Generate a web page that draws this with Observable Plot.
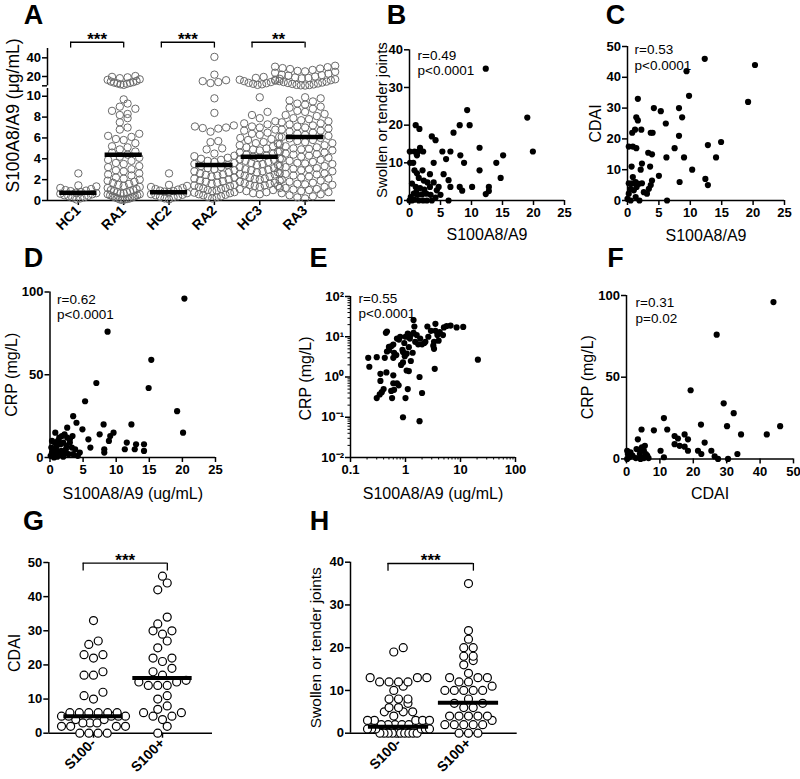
<!DOCTYPE html>
<html><head><meta charset="utf-8">
<script src="https://cdn.jsdelivr.net/npm/d3@7"></script>
<script src="https://cdn.jsdelivr.net/npm/@observablehq/plot@0.6"></script>
<style>
body{margin:0;background:#fff;}
#fig{position:relative;width:800px;height:779px;background:#fff;}
</style></head><body><div id="fig"></div>
<script>
// ---------------- DATA ----------------
// Panel A: S100A8/A9 (ug/mL) by group
const aGroups = ["HC1","RA1","HC2","RA2","HC3","RA3"];
const hc1 = [2.6,1.45,1.35,1.2,1.1,1.0,0.95,0.9,0.8,0.75,0.7,0.65,0.6,0.5,0.45,0.4,0.3,0.25,0.2,0.1];
const ra1 = [20.5,19.6,19.1,18.2,17.0,16.4,15.2,14.6,14.0,13.5,13.1,12.6,12.2,11.6,11.0,9.7,9.3,9.0,8.8,8.6,8.3,8.2,7.9,7.5,7.0,6.8,6.4,6.2,6.1,5.9,5.8,5.5,5.2,5.1,4.9,4.7,4.6,4.4,4.2,4.1,3.9,3.8,3.6,3.5,3.3,3.2,3.0,2.9,2.8,2.6,2.5,2.4,2.2,2.1,2.0,1.9,1.8,1.7,1.6,1.5,1.4,1.3,1.2,1.1,1.0,1.0,0.9,0.9,0.8,0.8,0.7,0.7,0.6,0.6,0.5,0.5,0.4,0.4,0.3,0.3,0.2,0.2,0.15,0.1,0.1,0.05];
const hc2 = [2.6,1.5,1.4,1.3,1.2,1.1,1.05,0.95,0.9,0.85,0.8,0.7,0.6,0.55,0.5,0.4,0.35,0.3,0.2,0.1];
const ra2 = [41,22,16,15,14,13,9.8,8.4,7.2,7.1,7.0,6.95,6.9,6.6,5.7,5.6,5.0,4.9,4.5,4.3,4.25,4.1,4.0,3.9,3.8,3.7,3.6,3.5,3.4,3.3,3.2,3.1,3.0,2.9,2.8,2.7,2.6,2.5,2.45,2.4,2.3,2.2,2.1,2.0,1.9,1.85,1.8,1.7,1.6,1.5,1.45,1.4,1.3,1.2,1.15,1.1,1.0,0.95,0.9,0.8,0.75,0.7,0.6,0.55,0.5,0.4,0.35,0.3,0.2];
const hc3 = [19.5,18.5,17.5,16.5,15.5,15,14,13.2,12.8,12.2,11.6,11,9.9,8.5,8.2,7.9,7.6,7.4,7.3,7.1,7.0,6.8,6.7,6.5,6.4,6.3,6.1,6.0,5.9,5.8,5.6,5.5,5.4,5.3,5.2,5.1,5.0,4.9,4.8,4.7,4.6,4.5,4.4,4.3,4.2,4.1,4.0,3.95,3.9,3.8,3.7,3.6,3.5,3.4,3.3,3.2,3.1,3.0,2.95,2.9,2.8,2.7,2.6,2.55,2.5,2.4,2.3,2.2,2.1,2.05,2.0,1.9,1.8,1.7,1.65,1.6,1.5,1.45,1.4,1.3,1.2,1.1,1.0,0.9,0.8,0.7,0.6];
const ra3 = [31.5,30.5,30,29,28.5,28,27,26,25.5,25,24,23,22,21.5,21,20,19,18.5,18,17,16.5,16,15,14.5,14,13.5,13,12.5,12,11.5,11,10.8,10.5,10.3,
 9.9,9.8,9.6,9.5,9.3,9.2,9.0,8.9,8.8,8.6,8.5,8.3,8.2,8.1,
 7.9,7.8,7.7,7.6,7.5,7.4,7.3,7.2,7.1,7.0,6.9,6.8,6.7,6.6,6.5,6.4,6.3,6.2,6.1,6.0,
 5.95,5.8,5.7,5.6,5.5,5.45,5.3,5.2,5.1,5.0,4.95,4.9,4.8,4.7,4.6,4.5,4.45,4.4,4.3,4.2,4.1,4.0,
 3.9,3.8,3.7,3.6,3.55,3.5,3.4,3.3,3.2,3.1,3.05,3.0,2.9,2.8,2.7,2.6,2.55,2.5,2.4,2.3,2.2,2.1,2.0,
 1.9,1.8,1.7,1.6,1.55,1.5,1.4,1.3,1.2,1.1,1.05,1.0,0.9,0.8,0.7,0.6,0.5,0.4,0.3,0.2];
const aMedians = [0.75,4.4,0.8,3.4,4.2,6.1];
const aComparisons = [{from:"HC1",to:"RA1",stars:"***"},{from:"HC2",to:"RA2",stars:"***"},{from:"HC3",to:"RA3",stars:"**"}];
const aYTicks = [0,2,4,6,8,10,20,40];
const aHalfWidths = [18,16,18,20,20,30];

// Panel B: S100A8/A9 vs swollen or tender joints
const bPts = [[12.3,35],[19.0,22],[19.9,13],[9.3,24],[8.1,20],[9.7,20],[7.1,18],[3.6,17],[4.2,16],[1.0,20],[1.6,19],[11.3,14],[8.2,12],[8.8,10],[5.3,13],[6.6,13],[5.9,11],[3.9,10],[0.8,13],[1.4,13],[2.2,13],[0.05,13],[1.2,12],[1.7,14],[14.0,10],[15.1,12],[14.7,6],[11.3,8],[12.3,1.7],[12.8,2.5],[12.8,3.6],[10.1,3.6],[8.1,3.6],[8.5,2.6],[6.6,3.6],[6.3,5.4],[5.5,7],[4.7,3.6],[5.0,1.5],[6.3,0],[3.3,3.6],[3.3,7],[2.1,8],[0.8,8],[1.2,7.2],[0.6,10],[0.1,10],[1.5,6],[2.3,5.3],[2.9,4.8],[3.9,4.8],[0.4,4.5],[1.0,3.6],[1.7,3.3],[2.4,2.9],[0.7,1.8],[1.3,1.5],[2.0,1.6],[3.4,1.5],[4.2,0.8],[0.2,0.9],[0.8,0.2],[1.5,0],[2.2,0],[2.8,0],[3.6,0],[0,0],[0.4,0],[1.1,2.2],[2.7,1.8],[4.4,2.7]];
const bStats = "r=0.49\np<0.0001";
// Panel C: S100A8/A9 vs CDAI
const cPts = [[12.3,46],[20.3,44],[9.4,42],[9.8,34],[19.2,32],[1.65,33],[4.2,30],[5.3,29],[8.2,30],[8.7,27],[1.4,27],[1.65,26],[6.1,25],[0.75,22],[1.2,23],[2.2,23],[3.7,22],[4.0,22],[0.2,17.5],[0.85,17.5],[1.4,17],[8.2,21],[7.5,17],[9.0,14],[12.8,18],[14.9,19],[14.1,14],[6.2,14],[3.3,15.5],[3.9,15],[2.3,12],[10.3,10],[5.0,8],[0.65,11],[2.1,10],[3.6,11],[8.3,6],[12.4,7],[12.8,5],[6.3,0],[0.2,5.6],[0.75,5.6],[1.3,6],[1.8,5.4],[0.5,3.8],[1.0,3.3],[1.45,4.4],[0.2,2.2],[1.3,1.1],[1.9,0],[0.5,0],[0,0.5],[2.6,2.7],[3.1,2.2],[3.4,3.8],[3.7,5],[3.9,6.5],[2.3,5.6],[0.85,7.6]];
const cStats = "r=0.53\np<0.0001";
// Panel D: S100A8/A9 vs CRP
const dPts = [[20.3,96],[8.7,76],[15.3,59],[14.9,42],[7.0,45],[5.3,34],[19.2,28],[20.1,15],[3.5,25],[4.0,21],[8.1,20],[12.3,20],[2.6,18],[4.9,17],[7.5,14],[9.6,15],[9.1,13],[0.8,15],[1.8,13],[2.6,12],[3.4,13],[5.8,11],[8.9,10],[6.1,6],[8.2,5],[8.2,3],[11.6,9],[13.0,8],[14.2,8],[11.3,5],[12.8,5],[14.2,4],[0.3,10],[0.7,9],[1.2,10],[1.6,8],[2.0,9],[2.5,7],[3.0,9],[3.3,6],[3.8,5],[0.2,6],[0.5,4],[0.9,5],[1.3,3],[1.7,4],[2.2,3],[2.8,2],[3.5,2],[4.2,1],[0.1,1],[0.4,2],[0.8,1],[1.1,0.5],[1.5,1.5],[2.0,0.5],[0.6,0],[1.9,1],[0.3,3],[2.4,5],[1.0,7],[4.5,3],[3.0,11],[2.2,14],[1.4,12]];
const dStats = "r=0.62\np<0.0001";
// Panel E: log-log S100A8/A9 vs CRP
const ePts = [[11.2,17.5],[20.7,2.7],[6.6,19],[3.5,21],[2.5,18],[1.4,26],[1.45,18],[0.46,13.5],[0.44,12.5],[3.4,1.6],[1.8,1.0],[2.0,0.4],[0.9,0.1],[1.8,0.08],[0.21,3.0],[0.22,1.8],[0.3,3.1],[0.3,0.3],[0.34,0.37],[0.37,0.42],[0.57,0.3],[0.55,0.45],[0.35,1.2],[0.35,0.8],[0.45,1.3],[0.6,1.1],[0.6,0.7],[0.7,0.7],[0.75,0.62],[1.1,0.5],[1.0,0.3],[0.62,0.48],[1.15,1.4],[1.05,1.45],[0.4,0.5],[0.5,4.6],[0.55,5.8],[0.6,6.4],[0.76,8.5],[0.8,10],[0.95,7],[1.1,12],[1.25,11],[1.4,12.5],[1.6,11],[1.85,9],[2.2,7],[3.3,7.5],[3.2,6],[4.2,13],[4.8,11],[3.3,5],[1.15,5.5],[1.35,4],[0.88,4.7],[1.05,3.8],[0.97,3.3],[0.9,4.2],[0.6,3],[0.42,3],[0.46,4.3],[0.5,5.6],[0.62,4],[1.25,2.5],[0.9,2.3],[0.83,2.0],[0.68,3.5],[1.7,6.5],[2.0,6.5],[2.3,7.5],[2.9,14],[3.8,11],[5.0,17],[5.6,18.5],[8.5,17],[1.2,9],[1.0,10],[0.7,9],[1.5,7.5],[2.6,10],[3.5,14],[4.0,8]];
const eStats = "r=0.55\np<0.0001";
// Panel F: CDAI vs CRP
const fPts = [[44,96],[27,76],[19.2,42],[29.1,34],[32.1,28],[30.1,20],[22.3,21],[46,20],[42,15],[34.3,15],[11.2,25],[4.5,18],[8.2,17.5],[12.2,18],[3.4,12],[14.4,14],[15.4,12.5],[17.4,15],[18.4,12],[14.4,9],[15.9,8],[17.4,7.5],[18.4,5],[21.4,5],[23.4,10],[22.4,3],[25.4,5],[26.4,1.5],[27.4,0],[30.4,0],[33.2,3],[10.2,5],[11.2,1],[0.2,5],[0.4,3],[0.8,1],[1.8,2],[2.8,0.5],[4,3],[4.2,5],[4.6,7],[5.2,5],[5.8,3],[6.2,2],[4.6,1],[5.2,0.5],[6.6,0.5],[4.2,0],[0.2,0],[1.2,4],[5.5,8],[3,6]];
const fStats = "r=0.31\np=0.02";
// Panel G: CDAI by S100 status
const gGroups = ["S100-","S100+"];
const gNeg = [33,27,26,23,23,22,18,17,17,12,11,10,6,6,6,6,6,6,5,5,5,5,5,4,4,3,3,3,2,2,2,2,0,0,0,0];
const gPos = [46,44,42,34,32,30,30,29,27,25,22,22,21,19,18,17,15.5,15,15,14,14,14,11,10,8,7,6,6,5,5,4,2,0];
const gMedians = [5,16.2];
// Panel H: swollen or tender joints by S100 status
const hNeg = [20,19,13,13,13,12,12,12,12,11,10,8,8,8,7,6,6,5,5,5,4,3,3,3,3,3,2,2,2,2,2,1,1,1,1,1,1,0,0,0,0,0,0,0,0,0,0];
const hPos = [35,24,22,20,20,18,18,17,16,14,13,13,13,12,12,11,10,10,10,10,10,8,7,7,6,6,4,4,4,4,4,3,2,2,2,2,2,0,0,0];
const hMedians = [1.5,7.1];

// ---------------- HELPERS ----------------
const FONT = '"Liberation Sans", Arial, Helvetica, sans-serif';
const fig = document.getElementById("fig");
const baseStyle = {fontFamily: FONT, overflow: "visible", background: "transparent", color: "black"};
const tickText = {fontSize: 13, fontWeight: "bold", tickSize: 5, tickPadding: 2.5, strokeWidth: 1.5, label: null};

function mount(plot, left, top, w, h) {
  const d = document.createElement("div");
  Object.assign(d.style, {position: "absolute", left: left + "px", top: top + "px", width: w + "px", height: h + "px"});
  d.appendChild(plot); fig.appendChild(d);
}

// column scatter layout (GraphPad-like): points binned in rows, lowest values at the centre
function columnLayout(groups, toUnit, pxPerY, pxPerX, diam, halfWidths) {
  const out = [];
  groups.forEach((vals, gi) => {
    const pts = vals.map(v => ({v, u: toUnit(v)})).sort((a, b) => a.u - b.u);
    const rows = []; let cur = null;
    for (const p of pts) {
      const py = p.u * pxPerY;
      if (!cur || py - cur.start > diam * 0.9) { cur = {start: py, pts: []}; rows.push(cur); }
      cur.pts.push(p);
    }
    for (const row of rows) {
      const n = row.pts.length;
      const step = n > 1 ? Math.min(diam * 1.05, 2 * halfWidths[gi] / (n - 1)) : 0;
      const slots = d3.range(n).map(j => (j - (n - 1) / 2) * step)
        .sort((a, b) => Math.abs(a) - Math.abs(b) || a - b);
      row.pts.forEach((p, i) => out.push({g: gi, x: gi + slots[i] / pxPerX, y: p.u, v: p.v}));
    }
  });
  return out;
}

function labelMarks(o) {
  const m = [];
  if (o.letter) m.push(Plot.text([o.letter], {frameAnchor: "top-left", text: d => d, dx: o.letter_dx, dy: o.letter_dy, fontSize: 27, fontWeight: "bold", textAnchor: "middle", lineAnchor: "middle"}));
  if (o.yTitle) m.push(Plot.text([o.yTitle], {frameAnchor: "left", text: d => d, rotate: -90, dx: o.yt_dx, dy: o.yt_dy || 0, fontSize: o.ytSize || 16, textAnchor: "middle", lineAnchor: "middle"}));
  if (o.xTitle) m.push(Plot.text([o.xTitle], {frameAnchor: "bottom", text: d => d, dy: o.xt_dy, fontSize: 16, textAnchor: "middle", lineAnchor: "middle"}));
  if (o.stats) m.push(Plot.text([o.stats], {frameAnchor: "top-left", text: d => d, dx: o.st_dx, dy: o.st_dy, fontSize: 13.5, textAnchor: "start", lineAnchor: "top", lineHeight: 1.15}));
  return m;
}

const sup = {"-": "\u207B", "0": "\u2070", "1": "\u00B9", "2": "\u00B2"};
const logFmt = d => "10" + String(Math.round(Math.log10(d))).split("").map(c => sup[c]).join("");

function scatterPanel(o) {
  const marks = [];
  if (o.minorX) marks.push(Plot.axisX({ticks: o.minorX, tickSize: 2.5, tickFormat: () => "", strokeWidth: 1, label: null}));
  if (o.minorY) marks.push(Plot.axisY({ticks: o.minorY, tickSize: 2.5, tickFormat: () => "", strokeWidth: 1, label: null}));
  marks.push(
    Plot.axisX({...tickText, ticks: o.xTicks, tickFormat: o.xFmt}),
    Plot.axisY({...tickText, tickPadding: 1.5, ticks: o.yTicks, tickFormat: o.yFmt}),
    Plot.ruleX([o.xDomain[0]], {strokeWidth: 1.5}),
    Plot.ruleY([o.yDomain[0]], {strokeWidth: 1.5}),
    Plot.dot(o.pts, {x: d => d[0], y: d => d[1], r: 3.1, fill: "black", stroke: null}),
    ...labelMarks(o)
  );
  return Plot.plot({
    width: o.w, height: o.h, marginLeft: o.ml, marginRight: o.mr, marginTop: o.mt, marginBottom: o.mb,
    style: baseStyle,
    x: {type: o.log ? "log" : "linear", domain: o.xDomain, label: null},
    y: {type: o.log ? "log" : "linear", domain: o.yDomain, label: null},
    marks
  });
}

// ---------------- PANEL A ----------------
const aScale = v => v <= 10 ? v : 11 + (v - 10) * 0.0895;
const aInv = t => Math.round(t <= 10.5 ? t : 10 + (t - 11) / 0.0895);
const aLayout = columnLayout([hc1, ra1, hc2, ra2, hc3, ra3], aScale, 10.43, 45.3, 7.4, aHalfWidths);
const aBr = aComparisons.map(c => ({a: aGroups.indexOf(c.from) - 0.17, b: aGroups.indexOf(c.to), s: c.stars}));
const plotA = Plot.plot({
  width: 345, height: 245, marginLeft: 47, marginRight: 10, marginTop: 48, marginBottom: 45,
  style: baseStyle,
  x: {domain: [-0.68, 5.67], label: null},
  y: {domain: [0, 14.58], label: null},
  marks: [
    Plot.axisY({...tickText, tickPadding: 1.5, ticks: aYTicks.map(aScale), tickFormat: aInv}),
    Plot.axisY({ticks: [11], tickSize: 5, tickFormat: () => "", strokeWidth: 1.5, label: null}),
    Plot.ruleX([{y1: 0, y2: 10.75}, {y1: 11, y2: 14.58}], {x: -0.68, y1: "y1", y2: "y2", strokeWidth: 1.5}),
    Plot.axisX({...tickText, fontSize: 14, ticks: d3.range(aGroups.length), tickFormat: i => aGroups[i], tickRotate: -45}),
    Plot.ruleY([0], {strokeWidth: 1.5}),
    Plot.dot(aLayout, {x: "x", y: "y", r: 3.7, stroke: "#6a6a6a", strokeWidth: 1, fill: "none"}),
    Plot.ruleY(aMedians.map((m, i) => ({i, m})), {y: d => aScale(d.m), x1: d => d.i - 0.41, x2: d => d.i + 0.41, strokeWidth: 4.5}),
    Plot.ruleY(aBr, {y: 15.18, x1: "a", x2: "b", strokeWidth: 1.3}),
    Plot.ruleX(aBr, {x: "a", y1: 15.18, y2: 14.62, strokeWidth: 1.3}),
    Plot.ruleX(aBr, {x: "b", y1: 15.18, y2: 14.62, strokeWidth: 1.3}),
    Plot.text(aBr, {x: d => (d.a + d.b) / 2, y: 15.18, text: "s", lineAnchor: "bottom", dy: 3, fontSize: 17, fontWeight: "bold"}),
    ...labelMarks({letter: "A", letter_dx: -14, letter_dy: -33, yTitle: "S100A8/A9 (\u03BCg/mL)", yt_dx: -34, yt_dy: -9, ytSize: 17.5})
  ]
});
mount(plotA, 0, 0, 345, 245);

// ---------------- PANELS B-F ----------------
mount(scatterPanel({w: 235, h: 245, ml: 69, mr: 11, mt: 49.3, mb: 45,
  xDomain: [0, 25], yDomain: [0, 40], xTicks: [0,5,10,15,20,25], yTicks: [0,10,20,30,40],
  pts: bPts, stats: bStats, st_dx: 8, st_dy: -1,
  letter: "B", letter_dx: -13, letter_dy: -34,
  yTitle: "Swollen or tender joints", yt_dx: -27, yt_dy: -5, ytSize: 15,
  xTitle: "S100A8/A9", xt_dy: 34}), 340, 0, 235, 245);

mount(scatterPanel({w: 225, h: 245, ml: 52, mr: 16, mt: 46, mb: 45,
  xDomain: [0, 25], yDomain: [0, 50], xTicks: [0,5,10,15,20,25], yTicks: [0,10,20,30,40,50],
  pts: cPts, stats: cStats, st_dx: 7, st_dy: -3.5,
  letter: "C", letter_dx: -12, letter_dy: -31,
  yTitle: "CDAI", yt_dx: -32, yt_dy: 0,
  xTitle: "S100A8/A9", xt_dy: 35}), 575, 0, 225, 245);

mount(scatterPanel({w: 230, h: 270, ml: 49.5, mr: 15, mt: 51.5, mb: 53,
  xDomain: [0, 25], yDomain: [0, 100], xTicks: [0,5,10,15,20,25], yTicks: [0,50,100],
  pts: dPts, stats: dStats, st_dx: 7, st_dy: 0.5,
  letter: "D", letter_dx: -16.5, letter_dy: -33.5,
  yTitle: "CRP (mg/L)", yt_dx: -38.5, yt_dy: 0,
  xTitle: "S100A8/A9 (ug/mL)", xt_dy: 36}), 0, 240, 230, 270);

const eMinorX = [0.2,0.3,0.4,0.5,0.6,0.7,0.8,0.9,2,3,4,5,6,7,8,9,20,30,40,50,60,70,80,90];
const eMinorY = [0.02,0.03,0.04,0.05,0.06,0.07,0.08,0.09,0.2,0.3,0.4,0.5,0.6,0.7,0.8,0.9,2,3,4,5,6,7,8,9,20,30,40,50,60,70,80,90];
mount(scatterPanel({w: 265, h: 270, ml: 80, mr: 20, mt: 56, mb: 53, log: true,
  xDomain: [0.1, 100], yDomain: [0.01, 100], xTicks: [0.1,1,10,100], yTicks: [0.01,0.1,1,10,100],
  xFmt: d => String(d), yFmt: logFmt, minorX: eMinorX, minorY: eMinorY,
  pts: ePts, stats: eStats, st_dx: 8, st_dy: -5,
  letter: "E", letter_dx: -32, letter_dy: -38,
  yTitle: "CRP (mg/L)", yt_dx: -45, yt_dy: 1.5,
  xTitle: "S100A8/A9 (ug/mL)", xt_dy: 36}), 270, 240, 265, 270);

mount(scatterPanel({w: 265, h: 270, ml: 91, mr: 7, mt: 55, mb: 51.6,
  xDomain: [0, 50], yDomain: [0, 100], xTicks: [0,10,20,30,40,50], yTicks: [0,50,100],
  pts: fPts, stats: fStats, st_dx: 9, st_dy: 0.5,
  letter: "F", letter_dx: -11, letter_dy: -37,
  yTitle: "CRP (mg/L)", yt_dx: -39, yt_dy: 0,
  xTitle: "CDAI", xt_dy: 35}), 535, 240, 265, 270);

// ---------------- PANELS G, H ----------------
function groupPanel(o) {
  const lay = columnLayout(o.groups, v => v, o.pxPerY, o.pxPerX, 9, o.half);
  const br = [{a: -0.15, b: 1.07, s: "***"}];
  return Plot.plot({
    width: o.w, height: o.h, marginLeft: o.ml, marginRight: o.mr, marginTop: o.mt, marginBottom: o.mb,
    style: baseStyle,
    x: {domain: o.xDomain, label: null},
    y: {domain: o.yDomain, label: null},
    marks: [
      Plot.axisY({...tickText, tickPadding: 1.5, ticks: o.yTicks}),
      Plot.axisX({...tickText, fontSize: 14, ticks: [0, 1], tickFormat: i => gGroups[i], tickRotate: -45}),
      Plot.ruleX([o.xDomain[0]], {strokeWidth: 1.5}),
      Plot.ruleY([0], {strokeWidth: 1.5}),
      Plot.dot(lay, {x: "x", y: "y", r: 4, stroke: "black", strokeWidth: 1.2, fill: "white"}),
      Plot.ruleY(o.medians.map((m, i) => ({i, m})), {y: "m", x1: d => d.i - 0.43, x2: d => d.i + 0.43, strokeWidth: 4}),
      Plot.ruleY(br, {y: o.brY, x1: "a", x2: "b", strokeWidth: 1.3}),
      Plot.ruleX(br, {x: "a", y1: o.brY, y2: o.brY2, strokeWidth: 1.3}),
      Plot.ruleX(br, {x: "b", y1: o.brY, y2: o.brY2, strokeWidth: 1.3}),
      Plot.text(br, {x: d => (d.a + d.b) / 2, y: o.brY, text: "s", lineAnchor: "bottom", dy: 3, fontSize: 17, fontWeight: "bold"}),
      ...labelMarks(o)
    ]
  });
}
mount(groupPanel({w: 230, h: 279, ml: 48.3, mr: 18, mt: 62, mb: 46.3,
  xDomain: [-0.648, 1.725], yDomain: [0, 50], yTicks: [0,10,20,30,40,50],
  groups: [gNeg, gPos], medians: gMedians, pxPerY: 3.41, pxPerX: 69, half: [32, 32],
  brY: 49.8, brY2: 47.5,
  letter: "G", letter_dx: -15.3, letter_dy: -41,
  yTitle: "CDAI", yt_dx: -34, yt_dy: 5}), 0, 500, 230, 279);

mount(groupPanel({w: 265, h: 279, ml: 80, mr: 18.3, mt: 61.7, mb: 46.3,
  xDomain: [-0.686, 1.696], yDomain: [0, 40], yTicks: [0,10,20,30,40],
  groups: [hNeg, hPos], medians: hMedians, pxPerY: 4.275, pxPerX: 70, half: [31, 28],
  brY: 39.7, brY2: 37.9,
  letter: "H", letter_dx: -31, letter_dy: -40.7,
  yTitle: "Swollen or tender joints", yt_dx: -34.5, yt_dy: 0, ytSize: 15.5}), 270, 500, 265, 279);
</script></body></html>
